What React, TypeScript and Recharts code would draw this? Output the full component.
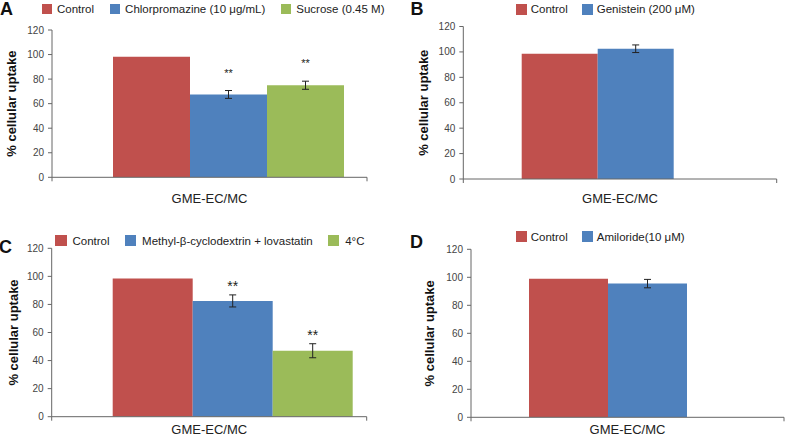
import React from 'react';
import { BarChart, Bar, XAxis, YAxis, ErrorBar, LabelList, Legend } from 'recharts';

const FONT = '"Liberation Sans", Arial, Helvetica, sans-serif';
const RED = '#C0504D';
const BLUE = '#4F81BD';
const GREEN = '#9BBB59';
const AXIS = '#666666';

const categories = ['GME-EC/MC'];
const yTicks = [0, 20, 40, 60, 80, 100, 120];

const seriesA = ['Control', 'Chlorpromazine (10 μg/mL)', 'Sucrose (0.45 M)'];
const valuesA = [98.2, 67.5, 75];
const errorsA = [0, 3.2, 3.3];
const sigA = ['', '**', '**'];

const seriesB = ['Control', 'Genistein (200 μM)'];
const valuesB = [98.5, 102.5];
const errorsB = [0, 3];
const sigB = ['', ''];

const seriesC = ['Control', 'Methyl-β-cyclodextrin + lovastatin', '4°C'];
const valuesC = [98.5, 82.5, 47];
const errorsC = [0, 4.3, 5];
const sigC = ['', '**', '**'];

const seriesD = ['Control', 'Amiloride(10 μM)'];
const valuesD = [99, 95.5];
const errorsD = [0, 3];
const sigD = ['', ''];

type PanelProps = {
  letter: string;
  series: string[];
  values: number[];
  errors: number[];
  sig: string[];
  colors: string[];
  box: { left: number; top: number; width: number; height: number };
  plot: { x0: number; x1: number; y0: number; y1: number };
  pad: { left: number; right: number };
  legend: { x: number; cy: number; sq: number; tg: number; gap: number; fs: number };
  letterPos: { x: number; y: number };
  titleX: number;
  xLabelGap: number;
  sigFont: number;
  sigGap: number;
};

function Panel(p: PanelProps) {
  const data = categories.map((name) => {
    const row: Record<string, any> = { name };
    p.series.forEach((_, i) => {
      row['v' + i] = p.values[i];
      row['e' + i] = p.errors[i];
      row['g' + i] = p.sig[i];
    });
    return row;
  });

  const xAxisH = p.box.height - p.plot.y1;

  const xLabel = (props: any) => {
    const vb = props.viewBox || props;
    return (
      <g>
        <line x1={vb.x} x2={vb.x} y1={vb.y} y2={vb.y + 4} stroke={AXIS} strokeWidth={1} />
        <line x1={vb.x + vb.width} x2={vb.x + vb.width} y1={vb.y} y2={vb.y + 4} stroke={AXIS} strokeWidth={1} />
        <text x={vb.x + vb.width / 2} y={vb.y + p.xLabelGap} textAnchor="middle" fontSize={13} fontFamily={FONT} fill="#222">
          {categories[0]}
        </text>
      </g>
    );
  };

  const yLabel = (props: any) => {
    const vb = props.viewBox || props;
    const cx = p.titleX;
    const cy = vb.y + vb.height / 2;
    return (
      <text
        x={cx}
        y={cy}
        transform={`rotate(-90 ${cx} ${cy})`}
        textAnchor="middle"
        dominantBaseline="central"
        fontSize={13}
        fontWeight="bold"
        fontFamily={FONT}
        fill="#111"
      >
        % cellular uptake
      </text>
    );
  };

  const legendContent = () => (
    <div style={{ display: 'flex', alignItems: 'center', whiteSpace: 'nowrap', fontFamily: FONT, fontSize: p.legend.fs, lineHeight: '14px', color: '#222' }}>
      {p.series.map((name, i) => (
        <div key={i} style={{ display: 'flex', alignItems: 'center', marginRight: p.legend.gap }}>
          <span style={{ display: 'inline-block', width: p.legend.sq, height: p.legend.sq, background: p.colors[i], marginRight: p.legend.tg }} />
          <span>{name}</span>
        </div>
      ))}
    </div>
  );

  const sigContent = (i: number) => (lp: any) => {
    const x = Number(lp.x);
    const y = Number(lp.y);
    const w = Number(lp.width);
    const h = Number(lp.height);
    const perUnit = h / p.values[i];
    const errTop = y - p.errors[i] * perUnit;
    return (
      <text x={x + w / 2} y={errTop - p.sigGap} textAnchor="middle" fontSize={p.sigFont} fontFamily={FONT} fill="#222">
        {p.sig[i]}
      </text>
    );
  };

  return (
    <div style={{ position: 'absolute', left: p.box.left, top: p.box.top, width: p.box.width, height: p.box.height }}>
      <div style={{ position: 'absolute', left: p.letterPos.x, top: p.letterPos.y, fontFamily: FONT, fontWeight: 'bold', fontSize: 18, lineHeight: 1, color: '#111', zIndex: 2 }}>
        {p.letter}
      </div>
      <BarChart
        width={p.box.width}
        height={p.box.height}
        data={data}
        margin={{ top: p.plot.y0, right: p.box.width - p.plot.x1, bottom: 0, left: 0 }}
        barGap={0}
        barCategoryGap={0}
      >
        <XAxis
          dataKey="name"
          type="category"
          tick={false}
          tickLine={false}
          axisLine={{ stroke: AXIS }}
          padding={p.pad}
          height={xAxisH}
          label={{ content: xLabel }}
        />
        <YAxis
          domain={[0, 120]}
          ticks={yTicks}
          width={p.plot.x0}
          tickSize={4}
          tickMargin={4}
          tickLine={{ stroke: AXIS }}
          axisLine={{ stroke: AXIS }}
          tick={{ fontSize: 10, fill: '#444', fontFamily: FONT }}
          allowDataOverflow
          label={{ content: yLabel }}
        />
        <Legend
          verticalAlign="middle"
          align="center"
          layout="horizontal"
          wrapperStyle={{ left: p.legend.x, top: p.legend.cy - 7, width: 'auto', height: 14 }}
          content={legendContent}
        />
        {p.series.map((s, i) => (
          <Bar key={s} dataKey={'v' + i} name={s} fill={p.colors[i]} isAnimationActive={false}>
            {p.errors[i] > 0 && (
              <ErrorBar dataKey={'e' + i} width={3.5} stroke="#222" strokeWidth={1} direction="y" isAnimationActive={false} />
            )}
            {p.sig[i] && <LabelList dataKey={'g' + i} content={sigContent(i)} />}
          </Bar>
        ))}
      </BarChart>
    </div>
  );
}

export default function App() {
  return (
    <div style={{ position: 'absolute', left: 0, top: 0, width: 785, height: 437, background: '#fff', overflow: 'hidden' }}>
      <Panel
        letter="A"
        series={seriesA}
        values={valuesA}
        errors={errorsA}
        sig={sigA}
        colors={[RED, BLUE, GREEN]}
        box={{ left: 0, top: 0, width: 390, height: 220 }}
        plot={{ x0: 52, x1: 367, y0: 30, y1: 177.3 }}
        pad={{ left: 61, right: 22 }}
        legend={{ x: 42, cy: 8.5, sq: 10, tg: 5, gap: 16, fs: 11.5 }}
        letterPos={{ x: 0, y: -0.2 }}
        titleX={12}
        xLabelGap={26}
        sigFont={11}
        sigGap={14}
      />
      <Panel
        letter="B"
        series={seriesB}
        values={valuesB}
        errors={errorsB}
        sig={sigB}
        colors={[RED, BLUE]}
        box={{ left: 395, top: 0, width: 390, height: 220 }}
        plot={{ x0: 68.3, x1: 381.7, y0: 26.5, y1: 179 }}
        pad={{ left: 58.4, right: 102.4 }}
        legend={{ x: 120.7, cy: 9, sq: 11, tg: 4, gap: 14, fs: 11.5 }}
        letterPos={{ x: 15.4, y: -0.2 }}
        titleX={28}
        xLabelGap={24}
        sigFont={11}
        sigGap={12}
      />
      <Panel
        letter="C"
        series={seriesC}
        values={valuesC}
        errors={errorsC}
        sig={sigC}
        colors={[RED, BLUE, GREEN]}
        box={{ left: 0, top: 220, width: 390, height: 217 }}
        plot={{ x0: 51.7, x1: 366.7, y0: 28.3, y1: 196.7 }}
        pad={{ left: 61, right: 14.4 }}
        legend={{ x: 55, cy: 20.7, sq: 11.5, tg: 6, gap: 15, fs: 11.5 }}
        letterPos={{ x: -1, y: 18 }}
        titleX={13}
        xLabelGap={17.5}
        sigFont={14}
        sigGap={3.5}
      />
      <Panel
        letter="D"
        series={seriesD}
        values={valuesD}
        errors={errorsD}
        sig={sigD}
        colors={[RED, BLUE]}
        box={{ left: 395, top: 220, width: 390, height: 217 }}
        plot={{ x0: 76, x1: 389, y0: 29.3, y1: 197.3 }}
        pad={{ left: 58, right: 97.3 }}
        legend={{ x: 120.7, cy: 16.7, sq: 11, tg: 4, gap: 14, fs: 11.5 }}
        letterPos={{ x: 15, y: 13 }}
        titleX={35}
        xLabelGap={17}
        sigFont={11}
        sigGap={12}
      />
    </div>
  );
}
